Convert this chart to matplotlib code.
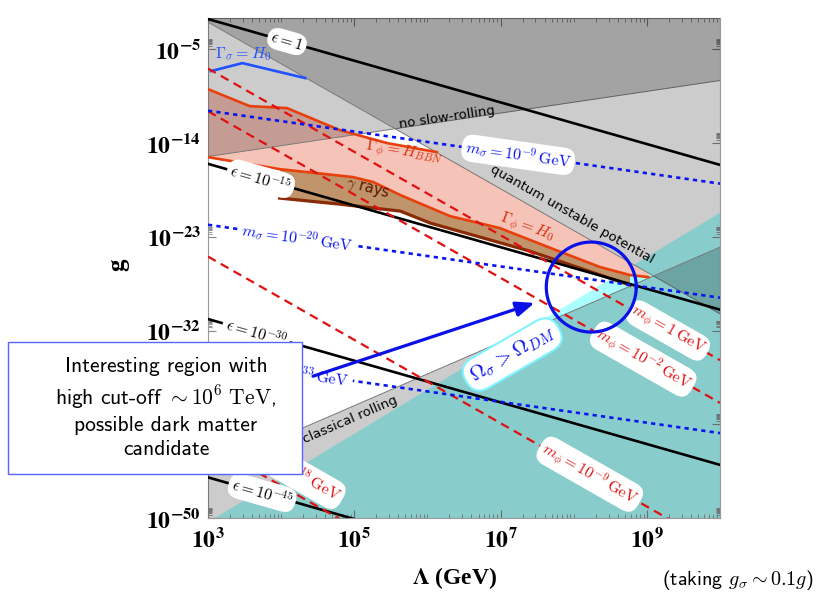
import numpy as np
import matplotlib
matplotlib.use('Agg')
import matplotlib.pyplot as plt
from matplotlib.patches import Rectangle
from matplotlib.ticker import NullFormatter

plt.rcParams['mathtext.fontset'] = 'stix'

# every value below is a log10: lam = log10(Lambda/GeV), g = log10(g)
lam_ends = [3.0, 10.0]

eps_names = ['1', '10^{-15}', '10^{-30}', '10^{-45}']
eps_g = [[-2.1, -16.1], [-16.0, -30.0], [-30.9, -44.9], [-46.1, -60.1]]
eps_lab = [(4.08, -4.26), (3.72, -17.44), (3.66, -32.22), (3.74, -47.58)]

mphi_names = ['1', '10^{-2}', '10^{-9}', '10^{-18}']
mphi_g = [[-6.85, -34.85], [-10.95, -38.95], [-24.9, -52.9], [-42.9, -70.9]]
mphi_lab = [(9.29, -32.0), (8.95, -34.75), (8.22, -45.8), (4.12, -45.4)]

msig_names = ['10^{-9}', '10^{-20}', '10^{-33}']
msig_g = [[-10.9, -17.9], [-21.85, -28.85], [-34.85, -41.85]]
msig_lab = [(7.24, -15.14), (4.22, -23.07), (4.17, -36.02)]

# straight region boundaries
noslow_g = [-15.3, -8.0]
quantum_g = [-2.4, -30.4]
classical_g = [-45.3, -24.0]
omega_g = [-50.4, -20.7]

# Gamma_phi = H_BBN
bbn_lam = [3.0, 3.57, 4.08, 4.80, 5.45, 6.13]
bbn_g = [-8.83, -10.46, -10.65, -12.76, -14.01, -14.88]
# Gamma_phi = H_0
h0_lam = [3.0, 3.98, 4.98, 5.26, 5.63, 6.31, 6.99, 7.72, 8.36, 8.77, 9.02]
h0_g = [-15.36, -16.51, -17.27, -17.75, -19.0, -21.02, -22.17, -24.18, -25.91, -26.68, -26.87]
# lower edge of gamma-ray bound
gam_lam = [3.98, 4.80, 5.63, 6.04, 7.40, 8.77]
gam_g = [-19.29, -19.87, -20.54, -21.69, -24.38, -27.64]
# Gamma_sigma = H_0
gs_lam = [3.04, 3.47, 4.33]
gs_g = [-7.10, -6.33, -7.77]

xt = [3, 5, 7, 9]
yt = [-50, -41, -32, -23, -14, -5]

P = lambda v: 10.0 ** np.asarray(v, dtype=float)

fig = plt.figure(figsize=(8.17, 5.92), dpi=100)
ax = fig.add_axes([208/817, 74/592, 512/817, 500/592])
ax.set_xscale('log')
ax.set_yscale('log')
ax.set_xlim(1e3, 1e10)
ax.set_ylim(1e-50, 1e-2)

def angle(xs, ys):
    p = ax.transData.transform(np.column_stack([P(xs), P(ys)]))
    return np.degrees(np.arctan2(p[1, 1] - p[0, 1], p[1, 0] - p[0, 0]))

# shaded regions
ax.fill(P([3, 10, 10, 3]), P(omega_g + [-55, -55]), color='#aaffff', lw=0, zorder=1)
pink_lam = bbn_lam + [9.02] + h0_lam[::-1]
pink_g = bbn_g + [quantum_g[0] + (quantum_g[1] - quantum_g[0]) * (9.02 - 3) / 7] + h0_g[::-1]
ax.fill(P(pink_lam), P(pink_g), color='#f6c3b8', lw=0, zorder=2)
ax.fill(P(h0_lam[1:10] + gam_lam[::-1]), P(h0_g[1:10] + gam_g[::-1]),
        color='#b8895a', alpha=0.9, lw=0, zorder=3)
for top in [noslow_g, quantum_g]:
    ax.fill(P([3, 10, 10, 3]), P(top + [0, 0]), color='black', alpha=0.2, lw=0, zorder=4)
    ax.plot(P(lam_ends), P(top), color='#7a7a7a', lw=0.7, zorder=4)
ax.fill(P([3, 10, 10, 3]), P(classical_g + [-55, -55]), color='black', alpha=0.2, lw=0, zorder=4)
ax.plot(P(lam_ends), P(classical_g), color='#7a7a7a', lw=0.7, zorder=4)

# curves
ax.plot(P(h0_lam), P(h0_g), color='#e8400c', lw=1.9, zorder=5)
ax.plot(P(bbn_lam), P(bbn_g), color='#e8400c', lw=1.9, zorder=5)
ax.plot(P(gam_lam), P(gam_g), color='#8a2a06', lw=2.3, zorder=5)
ax.plot(P(gs_lam), P(gs_g), color='#2050ff', lw=1.9, zorder=5)
for gg in eps_g:
    ax.plot(P(lam_ends), P(gg), color='black', lw=1.9, zorder=6)
for gg in mphi_g:
    ax.plot(P(lam_ends), P(gg), color='#e01010', lw=1.6, dashes=(4, 2.6), zorder=6)
for gg in msig_g:
    ax.plot(P(lam_ends), P(gg), color='#0a14f0', lw=1.9, dashes=(1.6, 1.6), zorder=6)

box = dict(boxstyle='round,pad=0.22,rounding_size=0.75', fc='white', ec='none')

def label(x, y, s, rot, color, size, bbox=box, **kw):
    ax.text(P(x), P(y), s, rotation=rot, rotation_mode='anchor', ha='center', va='center',
            color=color, fontsize=size, math_fontfamily='cm', bbox=bbox, zorder=8, **kw)

a = angle(lam_ends, eps_g[0])
for name, (x, y) in zip(eps_names, eps_lab):
    label(x, y, r'$\epsilon = %s$' % name, a, 'black', 11.5)
a = angle(lam_ends, mphi_g[0])
for name, (x, y) in zip(mphi_names, mphi_lab):
    label(x, y, r'$m_\phi = %s\,\mathrm{GeV}$' % name, a, '#e01010', 11.5)
a = angle(lam_ends, msig_g[0])
for name, (x, y) in zip(msig_names, msig_lab):
    label(x, y, r'$m_\sigma = %s\,\mathrm{GeV}$' % name, a, '#0a14f0', 11.5)

label(3.48, -5.45, r'$\Gamma_\sigma = H_0$', 0, '#2050ff', 11.5, bbox=None)
label(5.69, -14.9, r'$\Gamma_\phi = H_{BBN}$', -9, '#d8300c', 11.5, bbox=None)
label(7.36, -22.1, r'$\Gamma_\phi = H_0$', -20, '#d8300c', 11.5, bbox=None)
label(5.19, -18.4, r'$\gamma$ rays', -15, '#5a1800', 10.5, bbox=None, fontfamily='DejaVu Sans')
label(6.27, -11.5, 'no slow-rolling', angle(lam_ends, noslow_g), 'black', 9.5,
      bbox=None, fontfamily='DejaVu Sans')
label(7.98, -20.9, 'quantum unstable potential', angle(lam_ends, quantum_g), 'black', 9.5,
      bbox=None, fontfamily='DejaVu Sans')
label(4.94, -40.6, 'classical rolling', angle(lam_ends, classical_g), 'black', 9.5,
      bbox=None, fontfamily='DejaVu Sans')
label(7.16, -34.3, r'$\Omega_\sigma > \Omega_{DM}$', 30, '#0a14f0', 15,
      bbox=dict(boxstyle='round,pad=0.3,rounding_size=0.8', fc='white', ec='#7ff4ff', lw=1.5))

# highlighted region and pointer
t = np.linspace(0, 2 * np.pi, 200)
ax.plot(P(8.24 + 0.615 * np.cos(t)), P(-27.83 + 4.32 * np.sin(t)), color='#0a10e8', lw=2.3, zorder=9)
ax.annotate('', xy=(P(7.50), P(-29.27)), xytext=(P(4.40), P(-36.47)),
            arrowprops=dict(arrowstyle='-|>,head_length=1.1,head_width=0.45', color='#0a10e8', lw=2.3),
            zorder=9)

# axes styling; the 10^-41 label sits under the note box
ax.set_xticks(P(xt))
ax.set_xticklabels([r'$\mathbf{10^{%d}}$' % v for v in xt], fontsize=17)
ax.set_yticks(P(yt))
ax.set_yticklabels(['' if v == -41 else r'$\mathbf{10^{%d}}$' % v for v in yt], fontsize=17)
ax.set_xticks([k * 10.0 ** n for n in range(3, 10) for k in range(1, 10) if not (k == 1 and n % 2)],
              minor=True)
ax.set_yticks([k * 10.0 ** n for n in yt for k in range(2, 10)], minor=True)
ax.xaxis.set_minor_formatter(NullFormatter())
ax.yaxis.set_minor_formatter(NullFormatter())
ax.tick_params(which='both', direction='in', top=True, right=True, color='#888888')
ax.tick_params(which='major', length=6, pad=5)
ax.tick_params(which='minor', length=3)
ax.tick_params(axis='x', which='major', pad=7)
for s in ax.spines.values():
    s.set_color('#999999')

fig.text(455/817, 1 - 578/592, r'$\mathbf{\Lambda}$ (GeV)', ha='center', va='center',
         fontsize=17, fontweight='bold', fontfamily='Liberation Serif')
fig.text(118/817, 1 - 265/592, 'g', ha='center', va='center', rotation=90,
         fontsize=18, fontweight='bold', fontfamily='Liberation Serif')
fig.text(814/817, 1 - 580/592, r'(taking $g_\sigma \sim 0.1g$)', ha='right', va='center',
         fontsize=14.5, fontfamily='cmss10', math_fontfamily='cm')

fig.add_artist(Rectangle((8/817, 1 - 474/592), 294/817, 132/592, transform=fig.transFigure,
                         fc='white', ec='#5566ff', lw=1, zorder=10))
fig.text(166/817, 1 - 408/592,
         'Interesting region with\nhigh cut-off $\\sim 10^6\\ \\mathrm{TeV}$,\npossible dark matter\ncandidate',
         ha='center', va='center', multialignment='center', linespacing=1.34,
         fontsize=15.5, fontfamily='cmss10', math_fontfamily='cm', zorder=11)

fig.savefig('out.png', dpi=100)
